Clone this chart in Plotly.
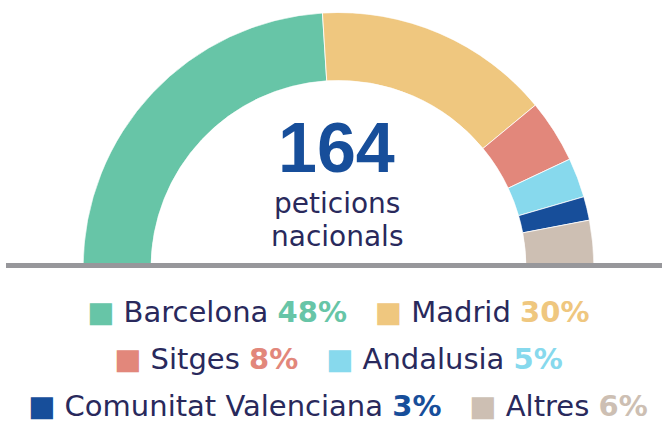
import plotly.graph_objects as go

# ---- data ----
categories = ["Barcelona", "Madrid", "Sitges", "Andalusia", "Comunitat Valenciana", "Altres"]
shares = [48, 30, 8, 5, 3, 6]
colors = ["#67c5a7", "#efc77f", "#e2877b", "#87d9ed", "#174e9a", "#cdbfb3"]
total_label = "164"
subtitle_lines = ["peticions", "nacionals"]
legend_rows = [[0, 1], [2, 3], [4, 5]]

W, H = 662, 421
NAVY = "#29295c"
FONT = "DejaVu Sans"


def px(x):
    return x / W


def py(y):
    return (H - y) / H


# half-donut geometry computed from the shares
tot = sum(shares)
thetas, widths = [], []
cum = 0
for v in shares:
    w = v / tot * 180.0
    thetas.append(180.0 - (cum + w / 2))
    widths.append(w)
    cum += w

fig = go.Figure()
fig.add_trace(go.Barpolar(
    r=[1] * len(shares),
    theta=thetas,
    width=widths,
    marker=dict(color=colors, line=dict(color="white", width=0.8)),
    text=categories,
    hoverinfo="text",
    showlegend=False,
))

cx, cy, R, r_in = 338.5, 268.0, 255.5, 187.5
fig.update_layout(
    width=W, height=H,
    margin=dict(l=0, r=0, t=0, b=0),
    paper_bgcolor="white",
    plot_bgcolor="white",
    polar=dict(
        domain=dict(x=[px(cx - R), px(cx + R)], y=[py(cy), py(cy - R)]),
        sector=[0, 180],
        hole=r_in / R,
        bgcolor="rgba(0,0,0,0)",
        radialaxis=dict(visible=False, range=[0, 1]),
        angularaxis=dict(visible=False, thetaunit="degrees", direction="counterclockwise", rotation=0),
        bargap=0,
    ),
    showlegend=False,
)

# baseline
fig.add_shape(type="line", xref="paper", yref="paper",
              x0=px(6), x1=px(662), y0=py(265.5), y1=py(265.5),
              line=dict(color="#97979b", width=5))

# centre text
fig.add_annotation(x=px(336.5), y=py(148), xref="paper", yref="paper",
                   text="<b>" + total_label + "</b>", showarrow=False,
                   font=dict(family="Liberation Sans", size=70, color="#174e9a"),
                   xanchor="center", yanchor="middle")
for i, line in enumerate(subtitle_lines):
    fig.add_annotation(x=px(336.5), y=py(203 + i * 33), xref="paper", yref="paper",
                       text=line, showarrow=False,
                       font=dict(family=FONT, size=28, color=NAVY),
                       xanchor="center", yanchor="middle")

# legend rows
row_y = [311.5, 359, 406]
for ri, row in enumerate(legend_rows):
    parts = []
    for idx in row:
        parts.append(
            f"<span style='color:{colors[idx]}'>■</span>\u00a0{categories[idx]}\u00a0"
            f"<span style='color:{colors[idx]}'><b>{shares[idx]}%</b></span>"
        )
    txt = "\u00a0\u00a0\u00a0".join(parts)
    fig.add_annotation(x=px(338), y=py(row_y[ri]), xref="paper", yref="paper",
                       text=txt, showarrow=False,
                       font=dict(family=FONT, size=29, color=NAVY),
                       xanchor="center", yanchor="middle")

fig.write_html("out.html",
               config={"displayModeBar": False},
               post_script="document.body.style.margin='0';document.body.style.overflow='hidden';")
